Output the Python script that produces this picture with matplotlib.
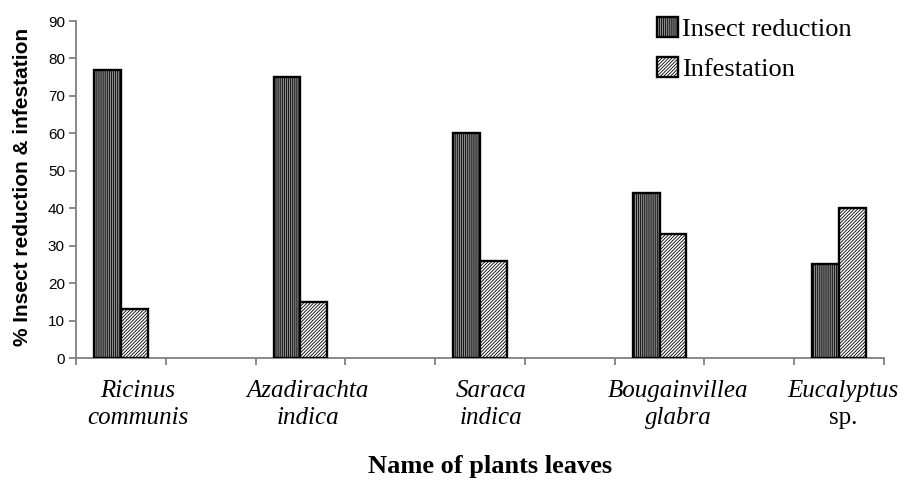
import matplotlib
matplotlib.use("Agg")
import matplotlib.pyplot as plt
import matplotlib.transforms as mtrans
import numpy as np

plt.rcParams['hatch.linewidth'] = 0.6

# ------ data -----------------------------------------------------------------
genus = ["Ricinus", "Azadirachta", "Saraca", "Bougainvillea", "Eucalyptus"]
species = ["communis", "indica", "indica", "glabra", "sp."]
species_italic = [True, True, True, True, False]
insect_reduction = [77, 75, 60, 44, 25]
infestation = [13, 15, 26, 33, 40]

# label nudges (in category units), as in the original chart
label_shift = [0.19, 0.08, 0.12, 0.21, 0.04]

W, H = 904, 480
fig = plt.figure(figsize=(W / 100, H / 100), dpi=100)
ax = fig.add_axes([76 / W, 1 - 358 / H, (884 - 76) / W, (358 - 21) / H])

grey = "#808080"
serif = "Liberation Serif"
sans = "Liberation Sans"

# categories sit on every second slot of a 9-slot axis
pos = np.arange(len(genus)) * 2
bw = 0.3
b1 = ax.bar(pos - bw / 2, insect_reduction, bw, facecolor="#8c8c8c",
            edgecolor="black", linewidth=1.7, hatch="||||||||", zorder=3,
            label="Insect reduction")
b2 = ax.bar(pos + bw / 2, infestation, bw, facecolor="white",
            edgecolor="black", linewidth=1.7, hatch="//////////", zorder=3,
            label="Infestation")

ax.set_xlim(-0.5, 8.5)
ax.set_ylim(0, 90)
ax.set_yticks(np.arange(0, 91, 10))
ax.set_xticks(np.arange(-0.5, 8.6, 1))
ax.set_xticklabels([])

for s in ["top", "right"]:
    ax.spines[s].set_visible(False)
for s in ["left", "bottom"]:
    ax.spines[s].set_color(grey)
    ax.spines[s].set_linewidth(1.3)
ax.tick_params(axis="y", colors=grey, length=5, width=1.3, labelcolor="black",
               labelsize=11, pad=3)
ax.tick_params(axis="x", colors=grey, length=5, width=1.3)
for t in ax.get_yticklabels():
    t.set_fontfamily(sans)

# category labels (two lines): x in data units, y in figure units
tr = mtrans.blended_transform_factory(ax.transData, fig.transFigure)
for i in range(len(genus)):
    x = pos[i] + label_shift[i]
    ax.text(x, 1 - 397 / H, genus[i], transform=tr, ha="center", va="baseline",
            fontsize=18, family=serif, style="italic")
    ax.text(x, 1 - 424 / H, species[i], transform=tr, ha="center", va="baseline",
            fontsize=18, family=serif,
            style="italic" if species_italic[i] else "normal")

fig.text(490 / W, 1 - 466 / H, "Name of plants leaves", ha="center", va="center",
         fontsize=19, family=serif, weight="bold")
fig.text(23 / W, 1 - 187 / H, "% Insect reduction & infestation", ha="center",
         va="center", rotation=90, fontsize=15, family=sans, weight="bold")

leg = fig.legend(handles=[b1, b2], loc="upper left",
                 bbox_to_anchor=(646 / W, 1 - 6 / H), frameon=False,
                 prop={"family": serif, "size": 19}, handlelength=0.8,
                 handleheight=0.8, handletextpad=0.15, labelspacing=0.6,
                 borderaxespad=0)

fig.savefig("out.png", dpi=100)
